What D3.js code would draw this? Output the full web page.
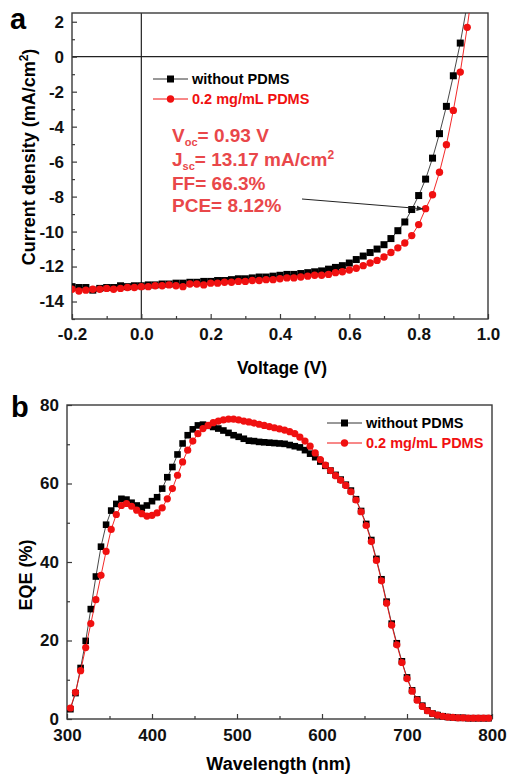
<!DOCTYPE html>
<html>

<head>
    <meta charset="utf-8">
    <style>
        body { margin: 0; background: #fff; }
        svg text { font-family: "Liberation Sans", Arial, sans-serif; font-weight: bold; }
    </style>
</head>

<body>
    <script src="https://d3js.org/d3.v7.min.js"></script>
    <div id="chart"></div>
    <script>
        // panel a: J-V curves
        const voltage = [-0.20, -0.18, -0.16, -0.14, -0.12, -0.10, -0.08, -0.06, -0.04, -0.02,
            0.00, 0.02, 0.04, 0.06, 0.08, 0.10, 0.12, 0.14, 0.16, 0.18,
            0.20, 0.22, 0.24, 0.26, 0.28, 0.30, 0.32, 0.34, 0.36, 0.38,
            0.40, 0.42, 0.44, 0.46, 0.48, 0.50, 0.52, 0.54, 0.56, 0.58,
            0.60, 0.62, 0.64, 0.66, 0.68, 0.70, 0.72, 0.74, 0.76, 0.78,
            0.80, 0.82, 0.84, 0.86, 0.88, 0.90, 0.92, 0.94, 0.96]
        const jWithout = [-13.15, -13.2, -13.2, -13.35, -13.25, -13.2, -13.2, -13.1, -13.15, -13.1,
            -13.1, -13.05, -13.05, -13.0, -13.0, -12.95, -12.95, -12.9, -12.9, -12.85,
            -12.85, -12.8, -12.8, -12.75, -12.7, -12.7, -12.65, -12.6, -12.6, -12.55,
            -12.5, -12.45, -12.45, -12.4, -12.35, -12.3, -12.25, -12.15, -12.05, -11.95,
            -11.8, -11.6, -11.4, -11.2, -11.0, -10.75, -10.4, -9.95, -9.45, -8.74,
            -7.94, -7.0, -5.8, -4.4, -2.84, -1.09, 0.78, 3.0, 5.5]
        const jPdms = [-13.3, -13.4, -13.35, -13.3, -13.3, -13.25, -13.3, -13.25, -13.2, -13.2,
            -13.15, -13.15, -13.1, -13.1, -13.05, -13.1, -13.15, -13.0, -13.0, -13.05,
            -12.95, -12.95, -12.9, -12.9, -12.85, -12.85, -12.8, -12.8, -12.75, -12.75,
            -12.7, -12.65, -12.65, -12.6, -12.55, -12.5, -12.5, -12.45, -12.35, -12.3,
            -12.2, -12.1, -11.95, -11.8, -11.65, -11.45, -11.2, -10.93, -10.65, -10.23,
            -9.6, -8.69, -7.89, -6.61, -5.03, -3.07, -0.88, 1.68, 4.6]
        const jvTicksX = [-0.2, 0.0, 0.2, 0.4, 0.6, 0.8, 1.0]
        const jvTicksY = [-14, -12, -10, -8, -6, -4, -2, 0, 2]

        // panel b: EQE spectra
        const wavelength = [304, 310, 316, 322, 328, 334, 340, 346, 352, 358,
            364, 370, 376, 382, 388, 394, 400, 406, 412, 418,
            424, 430, 436, 442, 448, 454, 460, 466, 472, 478,
            484, 490, 496, 502, 508, 514, 520, 526, 532, 538,
            544, 550, 556, 562, 568, 574, 580, 586, 592, 598,
            604, 610, 616, 622, 628, 634, 640, 646, 652, 658,
            664, 670, 676, 682, 688, 694, 700, 706, 712, 718,
            724, 730, 736, 742, 748, 754, 760, 766, 772, 778,
            784, 790, 796]
        const eqeWithout = [2.5, 6.6, 13.0, 19.9, 28.0, 36.3, 43.9, 49.5, 53.1, 54.8,
            56.1, 55.9, 55.1, 54.4, 53.8, 54.4, 55.5, 56.5, 58.7, 61.6,
            64.2, 67.4, 70.2, 72.3, 73.8, 74.8, 75.0, 74.7, 74.4, 74.0,
            73.5, 72.9, 72.3, 71.9, 71.4, 70.9, 70.8, 70.6, 70.5, 70.4,
            70.3, 70.2, 70.1, 69.8, 69.5, 69.2, 68.5, 67.6, 66.7, 65.6,
            64.5, 63.3, 62.2, 61.0, 59.7, 58.2, 56.0, 53.0, 49.7, 45.6,
            40.8, 35.6, 29.9, 24.3, 19.3, 14.7, 10.6, 7.3, 5.0, 3.4,
            2.2, 1.4, 1.0, 0.7, 0.5, 0.4, 0.3, 0.3, 0.2, 0.2,
            0.2, 0.2, 0.2]
        const eqePdms = [2.8, 6.8, 12.3, 18.2, 24.3, 30.4, 36.6, 42.7, 48.3, 52.1,
            54.4, 54.9, 54.2, 53.2, 52.3, 51.7, 51.9, 52.5, 53.8, 56.1,
            58.7, 62.1, 65.5, 68.5, 70.8, 72.7, 74.0, 74.8, 75.5, 75.9,
            76.2, 76.4, 76.4, 76.2, 75.9, 75.7, 75.4, 75.1, 74.8, 74.5,
            74.2, 73.9, 73.6, 73.2, 72.7, 71.8, 70.8, 69.5, 67.8, 66.1,
            64.7, 63.3, 62.0, 60.8, 59.5, 57.9, 55.8, 52.8, 49.3, 45.2,
            40.4, 35.2, 29.5, 23.9, 18.9, 14.4, 10.3, 7.1, 4.8, 3.2,
            2.1, 1.4, 1.0, 0.7, 0.5, 0.4, 0.3, 0.3, 0.2, 0.2,
            0.2, 0.2, 0.2]
        const eqeTicksX = [300, 400, 500, 600, 700, 800]
        const eqeTicksY = [0, 20, 40, 60, 80]

        const seriesNames = ["without PDMS", "0.2 mg/mL PDMS"]
        const cellParams = ["= 0.93 V", "= 13.17 mA/cm", "FF= 66.3%", "PCE= 8.12%"]

        const width = 507
        const height = 774
        const red = "#f01010"
        const noteRed = "#e9474a"
        const frameColor = "#3a3a3a"

        const svg = d3.select("#chart").append("svg")
            .attr("width", width).attr("height", height)

        // ---------- panel a ----------
        const a = { left: 72, right: 488, top: 13, bottom: 319 }
        const xJ = d3.scaleLinear().domain([-0.2, 1.0]).range([a.left, a.right])
        const yJ = d3.scaleLinear().domain([-15, 2.5]).range([a.bottom, a.top])

        svg.append("clipPath").attr("id", "clipA")
            .append("rect").attr("x", a.left).attr("y", a.top)
            .attr("width", a.right - a.left).attr("height", a.bottom - a.top)

        const gA = svg.append("g")

        // zero lines
        gA.append("line").attr("x1", a.left).attr("x2", a.right)
            .attr("y1", yJ(0)).attr("y2", yJ(0))
            .attr("stroke", "#222").attr("stroke-width", 1.2)
        gA.append("line").attr("x1", xJ(0)).attr("x2", xJ(0))
            .attr("y1", a.top).attr("y2", a.bottom)
            .attr("stroke", "#222").attr("stroke-width", 1.2)

        const drawAxes = (g, x, y, box, ticksX, ticksY, minorX, minorY, fmtX, fmtY, padX) => {
            const xAxis = g.append("g").attr("transform", "translate(0," + box.bottom + ")")
                .call(d3.axisBottom(x).tickValues(ticksX).tickSize(-5).tickPadding(padX).tickFormat(fmtX))
            const xMinor = g.append("g").attr("transform", "translate(0," + box.bottom + ")")
                .call(d3.axisBottom(x).tickValues(minorX).tickSize(-3).tickFormat(""))
            const yAxis = g.append("g").attr("transform", "translate(" + box.left + ",0)")
                .call(d3.axisLeft(y).tickValues(ticksY).tickSize(-5).tickPadding(8).tickFormat(fmtY))
            const yMinor = g.append("g").attr("transform", "translate(" + box.left + ",0)")
                .call(d3.axisLeft(y).tickValues(minorY).tickSize(-3).tickFormat(""))
            ;[xAxis, xMinor, yAxis, yMinor].forEach(ax => {
                ax.select(".domain").remove()
                ax.selectAll("line").attr("stroke", frameColor).attr("stroke-width", 1.2)
                ax.selectAll("text").attr("fill", "#111").style("font-size", "17px")
                    .style("font-family", "'Liberation Sans', Arial, sans-serif").style("font-weight", "bold")
            })
            g.append("rect").attr("x", box.left).attr("y", box.top)
                .attr("width", box.right - box.left).attr("height", box.bottom - box.top)
                .attr("fill", "none").attr("stroke", frameColor).attr("stroke-width", 1.4)
        }

        drawAxes(gA, xJ, yJ, a, jvTicksX, jvTicksY,
            [-0.1, 0.1, 0.3, 0.5, 0.7, 0.9], [-15, -13, -11, -9, -7, -5, -3, -1, 1],
            d => d.toFixed(1), d => String(d), 9)

        const jvLine = (vals) => d3.line().x((d, i) => xJ(voltage[i])).y(d => yJ(d))(vals)
        const plotA = gA.append("g").attr("clip-path", "url(#clipA)")

        plotA.append("path").attr("d", jvLine(jWithout))
            .attr("fill", "none").attr("stroke", "#333").attr("stroke-width", 0.9)
        plotA.selectAll(".sqA").data(jWithout).enter().append("rect")
            .attr("class", "sqA")
            .attr("x", (d, i) => xJ(voltage[i]) - 3.5).attr("y", d => yJ(d) - 3.5)
            .attr("width", 7).attr("height", 7).attr("fill", "#000")
        plotA.append("path").attr("d", jvLine(jPdms))
            .attr("fill", "none").attr("stroke", red).attr("stroke-width", 0.9)
        plotA.selectAll(".ciA").data(jPdms).enter().append("circle")
            .attr("class", "ciA")
            .attr("cx", (d, i) => xJ(voltage[i])).attr("cy", d => yJ(d))
            .attr("r", 3.7).attr("fill", red)

        // legend
        const legend = (g, x0, y0, len, gap) => {
            seriesNames.forEach((name, i) => {
                const yy = y0 + i * gap
                const col = i === 0 ? "#000" : red
                g.append("line").attr("x1", x0).attr("x2", x0 + len).attr("y1", yy).attr("y2", yy)
                    .attr("stroke", i === 0 ? "#333" : red).attr("stroke-width", 1)
                if (i === 0) {
                    g.append("rect").attr("x", x0 + len / 2 - 3.5).attr("y", yy - 3.5)
                        .attr("width", 7).attr("height", 7).attr("fill", col)
                } else {
                    g.append("circle").attr("cx", x0 + len / 2).attr("cy", yy).attr("r", 3.7).attr("fill", col)
                }
                g.append("text").attr("x", x0 + len + 4).attr("y", yy + 5)
                    .style("font-size", "14.5px").attr("fill", col).text(name)
            })
        }
        legend(gA, 153, 79, 35, 20)

        // cell parameters
        const note = gA.append("g").attr("fill", noteRed).style("font-size", "19px")
        const t1 = note.append("text").attr("x", 172).attr("y", 142)
        t1.append("tspan").text("V")
        t1.append("tspan").attr("dy", 4).style("font-size", "11px").text("oc")
        t1.append("tspan").attr("dy", -4).text(cellParams[0])
        const t2 = note.append("text").attr("x", 172).attr("y", 166)
        t2.append("tspan").text("J")
        t2.append("tspan").attr("dy", 4).style("font-size", "11px").text("sc")
        t2.append("tspan").attr("dy", -4).text(cellParams[1])
        t2.append("tspan").attr("dy", -7).style("font-size", "12px").text("2")
        note.append("text").attr("x", 172).attr("y", 190).text(cellParams[2])
        note.append("text").attr("x", 172).attr("y", 212).text(cellParams[3])

        svg.append("defs").append("marker").attr("id", "arrow")
            .attr("viewBox", "0 0 10 10").attr("refX", 9).attr("refY", 5)
            .attr("markerWidth", 7).attr("markerHeight", 7).attr("orient", "auto")
            .append("path").attr("d", "M0,1 L10,5 L0,9 z").attr("fill", "#222")
        gA.append("line").attr("x1", 302).attr("y1", 199)
            .attr("x2", xJ(0.812)).attr("y2", yJ(-8.7))
            .attr("stroke", "#222").attr("stroke-width", 1).attr("marker-end", "url(#arrow)")

        // titles a
        svg.append("text").attr("x", 10).attr("y", 29).style("font-size", "29px").text("a")
        svg.append("text").attr("x", (a.left + a.right) / 2 + 2).attr("y", 374)
            .attr("text-anchor", "middle").style("font-size", "17.5px").text("Voltage (V)")
        const yTitle = svg.append("text").attr("transform", "translate(35,157) rotate(-90)")
            .attr("text-anchor", "middle").style("font-size", "18px")
        yTitle.append("tspan").text("Current density (mA/cm")
        yTitle.append("tspan").attr("dy", -7).style("font-size", "12px").text("2")
        yTitle.append("tspan").attr("dy", 7).text(")")

        // ---------- panel b ----------
        const b = { left: 67, right: 492, top: 405, bottom: 719 }
        const xE = d3.scaleLinear().domain([300, 800]).range([b.left, b.right])
        const yE = d3.scaleLinear().domain([0, 80]).range([b.bottom, b.top])

        const gB = svg.append("g")
        drawAxes(gB, xE, yE, b, eqeTicksX, eqeTicksY,
            [350, 450, 550, 650, 750], [10, 30, 50, 70], d => String(d), d => String(d), 10)

        const eqeLine = (vals) => d3.line().x((d, i) => xE(wavelength[i])).y(d => yE(d))(vals)
        gB.append("path").attr("d", eqeLine(eqeWithout))
            .attr("fill", "none").attr("stroke", "#333").attr("stroke-width", 0.9)
        gB.selectAll(".sqB").data(eqeWithout).enter().append("rect")
            .attr("class", "sqB")
            .attr("x", (d, i) => xE(wavelength[i]) - 3.3).attr("y", d => yE(d) - 3.3)
            .attr("width", 6.6).attr("height", 6.6).attr("fill", "#000")
        gB.append("path").attr("d", eqeLine(eqePdms))
            .attr("fill", "none").attr("stroke", red).attr("stroke-width", 0.9)
        gB.selectAll(".ciB").data(eqePdms).enter().append("circle")
            .attr("class", "ciB")
            .attr("cx", (d, i) => xE(wavelength[i])).attr("cy", d => yE(d))
            .attr("r", 3.6).attr("fill", red)

        legend(gB, 327, 423, 35, 20)

        svg.append("text").attr("x", 11).attr("y", 417).style("font-size", "29px").text("b")
        svg.append("text").attr("x", (b.left + b.right) / 2 - 1).attr("y", 770)
            .attr("text-anchor", "middle").style("font-size", "18px").text("Wavelength (nm)")
        svg.append("text").attr("transform", "translate(32,575) rotate(-90)")
            .attr("text-anchor", "middle").style("font-size", "18px").text("EQE (%)")
    </script>
</body>

</html>
